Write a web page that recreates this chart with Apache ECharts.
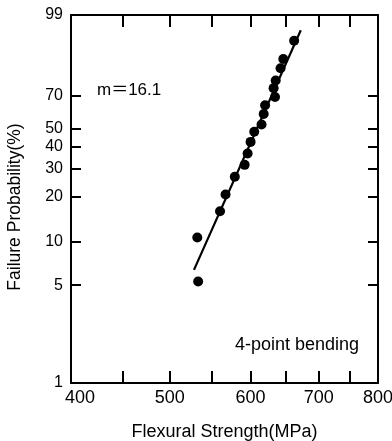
<!DOCTYPE html>
<html>
<head>
<meta charset="utf-8">
<script src="https://cdn.jsdelivr.net/npm/echarts@6/dist/echarts.min.js"></script>
<style>
html,body{margin:0;padding:0;background:#fff;}
#chart{width:392px;height:441px;}
</style>
</head>
<body>
<div id="chart"></div>
<script>
// Data (Weibull plot)
const strength = [532, 533, 560, 567, 579, 592, 596, 600, 605, 615, 618, 620, 634, 632, 635, 642, 646, 662];
const probability = [10.7, 5.3, 16.1, 20.7, 26.8, 31.6, 36.8, 42.7, 48.3, 52.5, 58.8, 64.1, 69.1, 74.4, 78.7, 85.0, 89.1, 95.0];
const fitStrength = [528, 672];
const fitProbability = [6.4, 97.2];
const xTickValues = [450, 500, 550, 600, 650, 700, 750];
const xLabelValues = [400, 500, 600, 700, 800];
const yLabelValues = [1, 5, 10, 20, 30, 40, 50, 70, 99];
const yTickValues = [5, 10, 20, 30, 40, 50, 70];

const lx = s => Math.log10(s);
const wy = p => Math.log(-Math.log(1 - p / 100));
const nearest = (vals, f, v) => {
  let best = vals[0], d = Infinity;
  vals.forEach(a => { const dd = Math.abs(f(a) - v); if (dd < d) { d = dd; best = a; } });
  return best;
};

const FONT = 'Liberation Sans';
const xMin = lx(400), xMax = lx(800);
const yMin = wy(1), yMax = wy(99);

const pts = strength.map((s, i) => [lx(s), wy(probability[i])]);
const fit = fitStrength.map((s, i) => [lx(s), wy(fitProbability[i])]);

const axisLine = { show: true, onZero: false, lineStyle: { color: '#000', width: 2 } };
const tickStyle = { color: '#000', width: 2 };

const chart = echarts.init(document.getElementById('chart'), null, { renderer: 'canvas' });
chart.setOption({
  animation: false,
  backgroundColor: '#fff',
  grid: { left: 71, right: 14, top: 15, bottom: 58, containLabel: false, outerBoundsMode: 'none' },
  xAxis: [{
    type: 'value', min: xMin, max: xMax, position: 'bottom',
    axisLine: axisLine,
    splitLine: { show: false },
    axisTick: { show: true, inside: true, length: 12, lineStyle: tickStyle, customValues: xTickValues.map(lx) },
    axisLabel: {
      show: true, customValues: xLabelValues.map(lx), margin: 6,
      fontFamily: FONT, fontSize: 18, color: '#000',
      formatter: v => {
        const t = nearest(xLabelValues, lx, v);
        return t === xLabelValues[0] ? '{f|' + t + '}' : String(t);
      },
      rich: { f: { fontFamily: FONT, fontSize: 18, color: '#000', padding: [0, 0, 0, 18] } }
    },
    name: 'Flexural Strength(MPa)', nameLocation: 'middle', nameGap: 40,
    nameTextStyle: { fontFamily: FONT, fontSize: 18, color: '#000' }
  }, {
    type: 'value', min: xMin, max: xMax, position: 'top',
    axisLine: axisLine,
    splitLine: { show: false },
    axisTick: { show: true, inside: true, length: 12, lineStyle: tickStyle, customValues: xTickValues.map(lx) },
    axisLabel: { show: false }
  }],
  yAxis: [{
    type: 'value', min: yMin, max: yMax, position: 'left',
    axisLine: axisLine,
    splitLine: { show: false },
    axisTick: { show: true, inside: true, length: 10, lineStyle: tickStyle, customValues: yTickValues.map(wy) },
    axisLabel: {
      show: true, customValues: yLabelValues.map(wy), margin: 8,
      fontFamily: FONT, fontSize: 16, color: '#000',
      formatter: v => String(nearest(yLabelValues, wy, v))
    }
  }, {
    type: 'value', min: yMin, max: yMax, position: 'right',
    axisLine: axisLine,
    splitLine: { show: false },
    axisTick: { show: true, inside: true, length: 10, lineStyle: tickStyle, customValues: yTickValues.map(wy) },
    axisLabel: { show: false }
  }],
  series: [{
    type: 'line', data: fit, symbol: 'none',
    lineStyle: { color: '#000', width: 2.2 }, z: 2
  }, {
    type: 'scatter', data: pts, symbol: 'circle', symbolSize: 10,
    itemStyle: { color: '#000', opacity: 1 }, z: 3
  }],
  graphic: [{
    type: 'text', x: 15, y: 207, rotation: Math.PI / 2,
    style: { text: 'Failure Probability(%)', fontFamily: FONT, fontSize: 17.5, fill: '#000', align: 'center', verticalAlign: 'middle' }
  }, {
    type: 'text', left: 97, top: 82,
    style: { text: 'm＝16.1', fontFamily: FONT + ', "Noto Sans CJK JP"', fontSize: 17, fill: '#000' }
  }, {
    type: 'text', left: 235, top: 336,
    style: { text: '4-point bending', fontFamily: FONT, fontSize: 18, fill: '#000' }
  }]
});
</script>
</body>
</html>
